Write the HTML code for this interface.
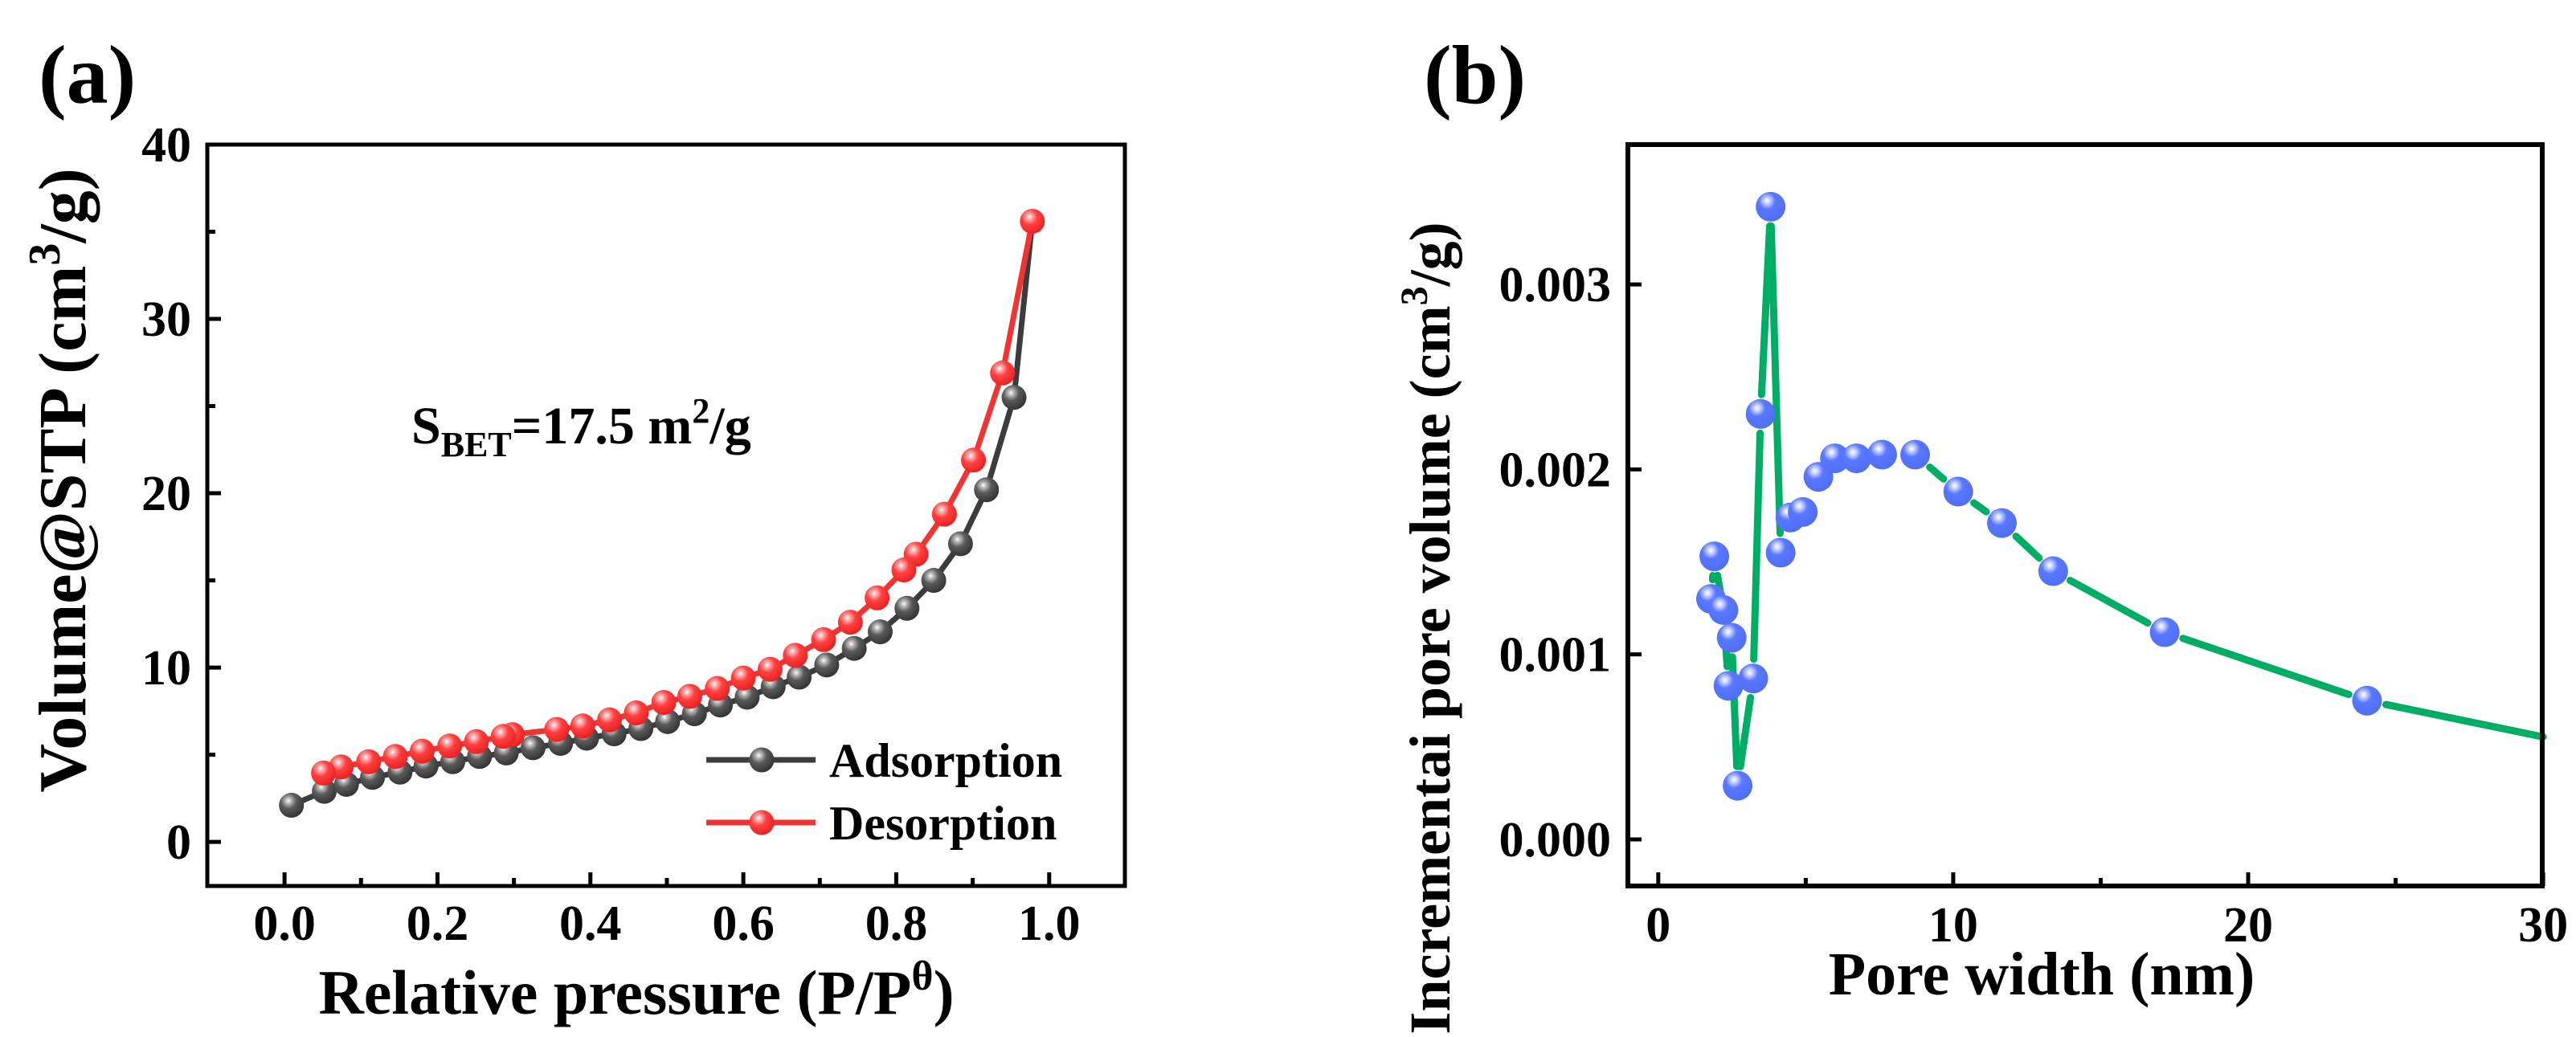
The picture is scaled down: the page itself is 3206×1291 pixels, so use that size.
<!DOCTYPE html>
<html><head><meta charset="utf-8"><style>
html,body{margin:0;padding:0;background:#fff;}
svg{display:block;font-family:"Liberation Serif",serif;font-weight:bold;}
</style></head><body>
<svg id="fig" width="3206" height="1291" viewBox="0 0 3206 1291" xmlns="http://www.w3.org/2000/svg">
<defs>
<radialGradient id="gDark" cx="0.38" cy="0.32" r="0.7">
<stop offset="0" stop-color="#ffffff"/><stop offset="0.15" stop-color="#bdbdbd"/><stop offset="0.45" stop-color="#5a5a5a"/><stop offset="1" stop-color="#333"/></radialGradient>
<radialGradient id="gRed" cx="0.38" cy="0.32" r="0.7">
<stop offset="0" stop-color="#ffffff"/><stop offset="0.15" stop-color="#ffb0b0"/><stop offset="0.45" stop-color="#ff4040"/><stop offset="1" stop-color="#e82020"/></radialGradient>
<radialGradient id="gBlue" cx="0.38" cy="0.3" r="0.7">
<stop offset="0" stop-color="#ffffff"/><stop offset="0.15" stop-color="#c8d2ff"/><stop offset="0.4" stop-color="#5a78ff"/><stop offset="1" stop-color="#4f6ff5"/></radialGradient>
</defs>
<g id="pa"></g>
<g id="pb"></g>
</svg>
<script>
// Panel (a) data
const adsX = [0.009,0.052,0.081,0.115,0.151,0.185,0.22,0.255,0.29,0.325,0.361,0.395,0.431,0.466,0.501,0.536,0.57,0.605,0.639,0.673,0.709,0.745,0.779,0.814,0.849,0.884,0.918,0.954];
const adsY = [2.1,2.9,3.3,3.7,4.0,4.35,4.6,4.9,5.1,5.4,5.65,5.95,6.2,6.5,6.9,7.35,7.85,8.3,8.9,9.45,10.15,11.1,12.05,13.4,15.0,17.1,20.2,25.5];
const desX = [0.978,0.939,0.901,0.863,0.826,0.81,0.775,0.74,0.705,0.668,0.635,0.6,0.566,0.53,0.496,0.46,0.425,0.39,0.356,0.298,0.286,0.251,0.216,0.18,0.145,0.11,0.074,0.051];
const desY = [35.6,26.9,21.9,18.8,16.5,15.6,14.0,12.6,11.6,10.7,9.9,9.4,8.8,8.35,8.0,7.4,7.0,6.65,6.45,6.15,6.05,5.75,5.5,5.2,4.9,4.6,4.3,3.95];
const aXTicks = [0.0,0.2,0.4,0.6,0.8,1.0];
const aXTickLabels = ["0.0","0.2","0.4","0.6","0.8","1.0"];
const aYTicks = [0,10,20,30,40];
const aYTickLabels = ["0","10","20","30","40"];
// Panel (b) data
const poreX = [1.79,1.90,2.21,2.38,2.49,2.69,3.22,3.47,3.81,4.15,4.48,4.90,5.43,5.99,6.72,7.59,8.71,10.17,11.65,13.39,17.17,24.03,30.0];
const poreY = [0.00130,0.00153,0.00124,0.00083,0.00109,0.00029,0.00087,0.00230,0.00342,0.00155,0.00174,0.00177,0.00196,0.00206,0.00206,0.00208,0.00208,0.00188,0.00171,0.00145,0.00112,0.00075,0.000554];
const poreMarker = [1,1,1,1,1,1,1,1,1,1,1,1,1,1,1,1,1,1,1,1,1,1,0];
const bXTicks = [0,10,20,30];
const bXTickLabels = ["0","10","20","30"];
const bYTicks = [0,0.001,0.002,0.003];
const bYTickLabels = ["0.000","0.001","0.002","0.003"];

const NS="http://www.w3.org/2000/svg";
function mk(parent,tag,attrs,text){const e=document.createElementNS(NS,tag);for(const k in attrs)e.setAttribute(k,attrs[k]);if(text!==undefined)e.textContent=text;parent.appendChild(e);return e;}
const TF=62;

// ---------- Panel a ----------
const pa=document.getElementById('pa');
const A={x0:258,x1:1400,y0:180,y1:1103,xmin:-0.101,xmax:1.099,ymin:-2.53,ymax:40};
const ax=v=>A.x0+(v-A.xmin)/(A.xmax-A.xmin)*(A.x1-A.x0);
const ay=v=>A.y1-(v-A.ymin)/(A.ymax-A.ymin)*(A.y1-A.y0);
let t=mk(pa,'text',{x:48,y:128,'font-size':104},'(a)');


for(let v=0;v<=1.0001;v+=0.1){const major=Math.abs(Math.round(v*10)%2)===0;
 let l=mk(pa,'line',{x1:ax(v),x2:ax(v),y1:A.y1,y2:A.y1-(major?17:10),stroke:'#000','stroke-width':5});
 
 }
for(let v=0;v<=40;v+=5){const major=v%10===0;
 let l=mk(pa,'line',{x1:A.x0,x2:A.x0+(major?17:10),y1:ay(v),y2:ay(v),stroke:'#000','stroke-width':5});
 
 }
aXTicks.forEach((v,i)=>{let e=mk(pa,'text',{x:ax(v),y:1170,'font-size':TF,'text-anchor':'middle'},aXTickLabels[i]);
 
 });
aYTicks.forEach((v,i)=>{let e=mk(pa,'text',{x:238,y:ay(v)+21,'font-size':TF,'text-anchor':'end'},aYTickLabels[i]);
 
 });
function pathFrom(xs,ys,fx,fy){return xs.map((x,i)=>(i?'L':'M')+fx(x).toFixed(1)+','+fy(ys[i]).toFixed(1)).join(' ');}
let ap=mk(pa,'path',{d:pathFrom(adsX.concat([0.978]),adsY.concat([35.6]),ax,ay),fill:'none',stroke:'#3c3c3c','stroke-width':7});


let dp=mk(pa,'path',{d:pathFrom(desX,desY,ax,ay),fill:'none',stroke:'#f03434','stroke-width':7});


adsX.forEach((x,i)=>{let c=mk(pa,'circle',{cx:ax(x),cy:ay(adsY[i]),r:15.5,fill:'url(#gDark)'});
 
 });
desX.forEach((x,i)=>{let c=mk(pa,'circle',{cx:ax(x),cy:ay(desY[i]),r:15.5,fill:'url(#gRed)'});
 
 });
let fa=mk(pa,'rect',{x:A.x0,y:A.y0,width:A.x1-A.x0,height:A.y1-A.y0,fill:'none',stroke:'#000','stroke-width':5});


// legend
let lg=mk(pa,'g',{});


mk(lg,'line',{x1:879,x2:1015,y1:946,y2:946,stroke:'#3c3c3c','stroke-width':7});
mk(lg,'circle',{cx:948,cy:946,r:15.5,fill:'url(#gDark)'});
let le1=mk(lg,'text',{x:1032,y:967,'font-size':60},'Adsorption');


mk(lg,'line',{x1:879,x2:1015,y1:1024,y2:1024,stroke:'#f03434','stroke-width':7});
mk(lg,'circle',{cx:948,cy:1024,r:15.5,fill:'url(#gRed)'});
let le2=mk(lg,'text',{x:1032,y:1045,'font-size':60},'Desorption');


// annotation
let sb=mk(pa,'text',{x:512,y:552,'font-size':66});


sb.innerHTML='S<tspan font-size="44" dy="16">BET</tspan><tspan dy="-16">=17.5 m</tspan><tspan font-size="44" dy="-26">2</tspan><tspan dy="26">/g</tspan>';
let xta=mk(pa,'text',{x:792,y:1262,'font-size':78,'text-anchor':'middle'});


xta.innerHTML='Relative pressure (P/P<tspan font-size="52" dy="-30">θ</tspan><tspan dy="30">)</tspan>';
let yta=mk(pa,'text',{transform:'translate(106,598) rotate(-90)','font-size':84,'text-anchor':'middle'});


yta.innerHTML='Volume@STP (cm<tspan font-size="56" dy="-32">3</tspan><tspan dy="32">/g)</tspan>';

// ---------- Panel b ----------
const pb=document.getElementById('pb');
const B={x0:2026,x1:3164,y0:180,y1:1103,xmin:-1.03,xmax:29.97,ymin:-0.000252,ymax:0.003756};
const bx=v=>B.x0+(v-B.xmin)/(B.xmax-B.xmin)*(B.x1-B.x0);
const by=v=>B.y1-(v-B.ymin)/(B.ymax-B.ymin)*(B.y1-B.y0);
t=mk(pb,'text',{x:1772,y:128,'font-size':104},'(b)');


for(let v=0;v<=30;v+=5){const major=v%10===0;
 let l=mk(pb,'line',{x1:bx(v),x2:bx(v),y1:B.y1,y2:B.y1-(major?17:10),stroke:'#000','stroke-width':5});
 
 }
bYTicks.forEach(v=>{let l=mk(pb,'line',{x1:B.x0,x2:B.x0+17,y1:by(v),y2:by(v),stroke:'#000','stroke-width':5});
 
 });
bXTicks.forEach((v,i)=>{let e=mk(pb,'text',{x:bx(v),y:1172,'font-size':TF,'text-anchor':'middle'},bXTickLabels[i]);
 
 });
bYTicks.forEach((v,i)=>{let e=mk(pb,'text',{x:2005,y:by(v)+21,'font-size':TF,'text-anchor':'end'},bYTickLabels[i]);
 
 });
// line segments with gaps around markers
const gap=24;
for(let i=0;i<poreX.length-1;i++){
 const x1=bx(poreX[i]),y1=by(poreY[i]),x2=bx(poreX[i+1]),y2=by(poreY[i+1]);
 const dx=x2-x1,dy=y2-y1,L=Math.hypot(dx,dy);
 const g1=poreMarker[i]?gap:0,g2=poreMarker[i+1]?gap:0;
 if(L<=g1+g2+2)continue;
 const s=mk(pb,'line',{x1:x1+dx*g1/L,y1:y1+dy*g1/L,x2:x2-dx*g2/L,y2:y2-dy*g2/L,stroke:'#00ad65','stroke-width':9,'stroke-linecap':'round'});
 
 
}
poreX.forEach((x,i)=>{if(!poreMarker[i])return;
 let c=mk(pb,'circle',{cx:bx(x),cy:by(poreY[i]),r:18.5,fill:'url(#gBlue)'});
 
 });
let fb=mk(pb,'rect',{x:B.x0,y:B.y0,width:B.x1-B.x0,height:B.y1-B.y0,fill:'none',stroke:'#000','stroke-width':6});


let xtb=mk(pb,'text',{x:2541,y:1238,'font-size':76,'text-anchor':'middle'},'Pore width (nm)');


let ytb=mk(pb,'text',{transform:'translate(1804,782) rotate(-90)','font-size':72,'text-anchor':'middle'});


ytb.innerHTML='Incrementai pore volume (cm<tspan font-size="48" dy="-28">3</tspan><tspan dy="28">/g)</tspan>';
</script>
</body></html>
